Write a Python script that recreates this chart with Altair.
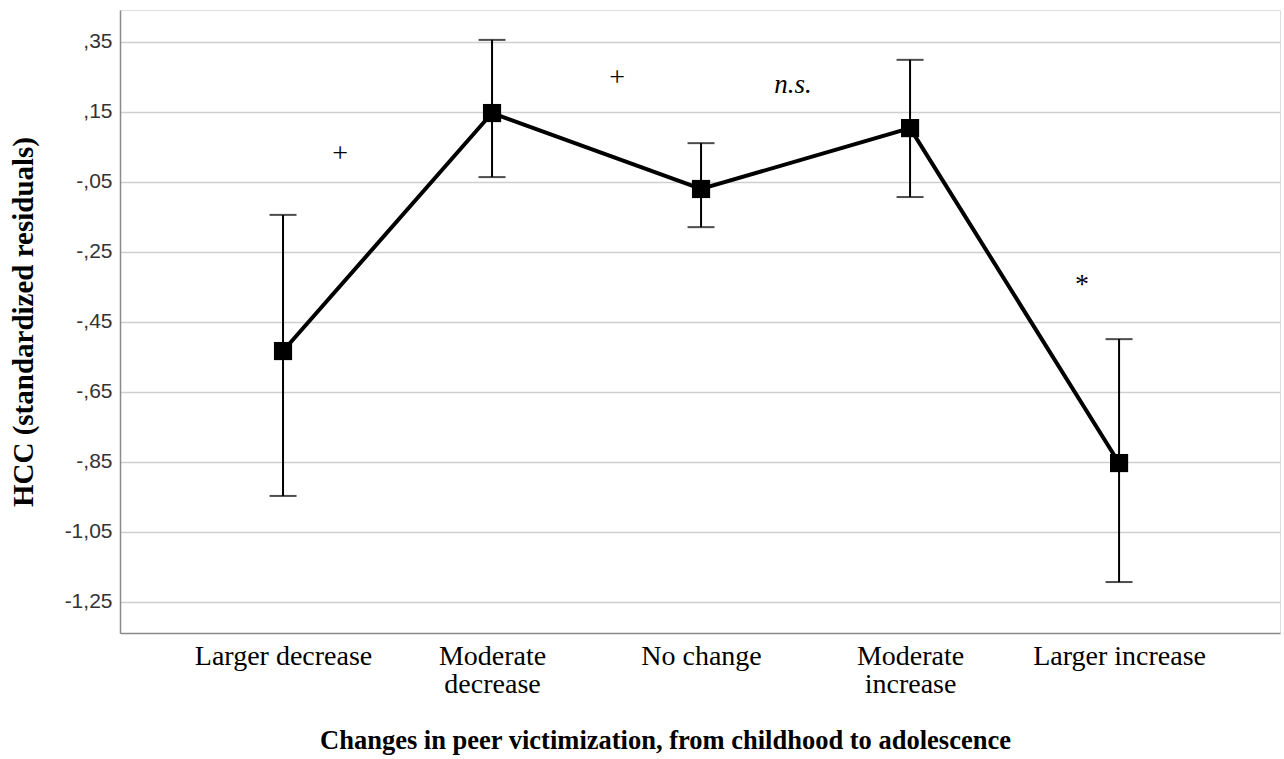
import altair as alt
import pandas as pd

categories = ["Larger decrease", "Moderate|decrease", "No change", "Moderate|increase", "Larger increase"]
positions = [1, 2, 3, 4, 5]
means = [-0.533, 0.147, -0.070, 0.104, -0.853]
upper = [-0.144, 0.356, 0.061, 0.299, -0.499]
lower = [-0.947, -0.036, -0.179, -0.093, -1.193]
y_ticks = [0.35, 0.15, -0.05, -0.25, -0.45, -0.65, -0.85, -1.05, -1.25]

ann_text = ["+", "+", "n.s.", "*"]
ann_x = [1.273, 2.598, 3.44, 4.823]
ann_y = [0.03, 0.247, 0.227, -0.345]
ann_italic = [False, False, True, False]

df = pd.DataFrame({"pos": positions, "mean": means, "hi": upper, "lo": lower})
ann = pd.DataFrame({"x": ann_x, "y": ann_y, "t": ann_text, "it": ann_italic})

W, H = 1160, 623
xscale = alt.Scale(domain=[0.22, 5.77], nice=False, zero=False)
yscale = alt.Scale(domain=[-1.3386, 0.4414], nice=False, zero=False)

lab_arr = "[" + ",".join("'" + c + "'" for c in categories) + "]"
label_expr = f"split({lab_arr}[datum.value - 1], '|')"
ylabel_expr = ("(datum.value < 0 ? '-' : '') + "
               "replace(replace(format(abs(datum.value), '.2f'), /^0\\./, ','), '.', ',')")

x_enc = alt.X("pos:Q", scale=xscale, axis=alt.Axis(
    title="Changes in peer victimization, from childhood to adolescence",
    values=positions, labelExpr=label_expr, grid=False, ticks=False,
    labelFont="Liberation Serif", labelFontSize=28, labelColor="#000000",
    labelLineHeight=28, labelPadding=9, labelBaseline="top",
    titleFont="Liberation Serif", titleFontSize=26.5, titleFontWeight="bold",
    titleColor="#000000", titlePadding=29, titleX=545, titleAlign="center",
    domainColor="#8a8a8a", domainWidth=1.5))

y_axis = alt.Axis(
    title="HCC (standardized residuals)", values=y_ticks, labelExpr=ylabel_expr,
    grid=True, gridColor="#cfcfcf", gridWidth=1.5, ticks=False,
    labelFont="Liberation Sans", labelFontSize=21, labelColor="#333333",
    labelPadding=8,
    titleFont="Liberation Serif", titleFontSize=29, titleFontWeight="bold",
    titleColor="#000000", titlePadding=26,
    domainColor="#8a8a8a", domainWidth=1.5)

base = alt.Chart(df)

rules = base.mark_rule(color="black", strokeWidth=2).encode(
    x=x_enc, y=alt.Y("lo:Q", scale=yscale, axis=y_axis), y2="hi:Q")
cap_hi = base.mark_tick(orient="horizontal", color="black", size=27, thickness=2).encode(
    x="pos:Q", y="hi:Q")
cap_lo = base.mark_tick(orient="horizontal", color="black", size=27, thickness=2).encode(
    x="pos:Q", y="lo:Q")
line = base.mark_line(color="black", strokeWidth=4).encode(x="pos:Q", y="mean:Q")
pts = base.mark_square(color="black", size=330, opacity=1).encode(x="pos:Q", y="mean:Q")

texts_n = alt.Chart(ann).transform_filter("!datum.it").mark_text(
    font="Liberation Serif", fontSize=28, color="black", fill="black",
    baseline="middle", align="center"
).encode(x="x:Q", y="y:Q", text="t:N")
texts_i = alt.Chart(ann).transform_filter("datum.it").mark_text(
    font="Liberation Serif", fontSize=27, fontStyle="italic", color="black", fill="black",
    baseline="middle", align="center"
).encode(x="x:Q", y="y:Q", text="t:N")

chart = alt.layer(rules, cap_hi, cap_lo, line, pts, texts_n, texts_i).properties(
    width=W, height=H,
    autosize=alt.AutoSizeParams(type="none"),
    padding={"left": 120, "top": 10, "right": 4, "bottom": 126},
).configure_view(stroke=None).configure(background="white")

chart.save("out.html", embed_options={"renderer": "svg", "actions": False})
